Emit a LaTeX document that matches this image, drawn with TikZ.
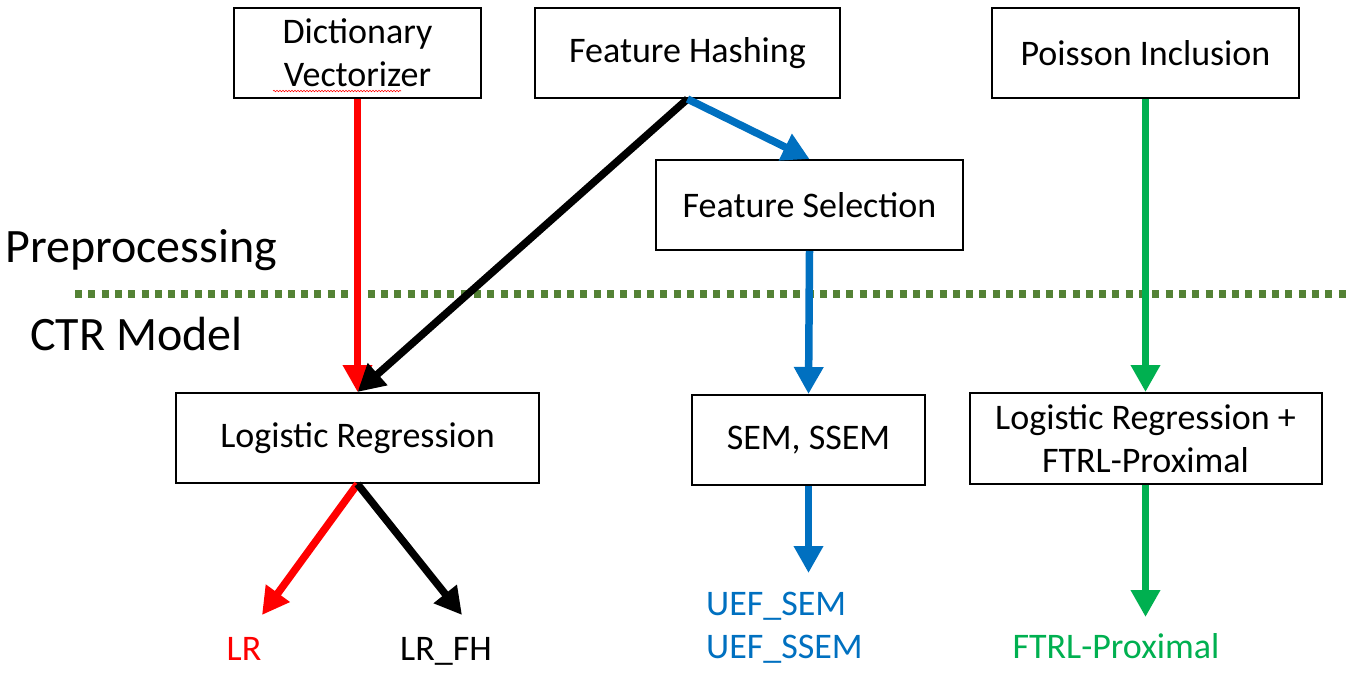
\documentclass[tikz,border=0pt]{standalone}
\usepackage{fontspec}
\setmainfont{Carlito}
\usetikzlibrary{arrows.meta,positioning,decorations.pathmorphing}
\definecolor{flowred}{HTML}{FF0000}
\definecolor{flowblue}{HTML}{0070C0}
\definecolor{flowgreen}{HTML}{00B050}
\definecolor{sepgreen}{HTML}{548235}
\tikzset{
  >={Triangle[length=27pt,width=28pt]},
  % kästchen
  box/.style={draw=black,line width=2pt,fill=white,align=center,inner sep=0pt,
              font=\fontsize{36}{43}\selectfont},
  flow/.style={->,line width=7.5pt},
  outlbl/.style={font=\fontsize{36}{43}\selectfont,inner sep=0pt,align=left},
  stage/.style={font=\fontsize{48}{54}\selectfont,inner sep=0pt,anchor=base west},
  sepline/.style={draw=sepgreen,line width=8pt,dash pattern=on 7pt off 6.3pt},
}
\begin{document}
\begin{tikzpicture}[x=1pt,y=-1pt]
\useasboundingbox (0,0) rectangle (1348,675);
  \node[box,minimum width=247,minimum height=90] (dv) at (357.5,53) {Dictionary\\Vectorizer};
  \node[box,minimum width=305,minimum height=90] (fh) at (687.5,53) {Feature Hashing};
  \node[box,minimum width=307,minimum height=90] (pi) at (1145.5,53) {Poisson Inclusion};
  \node[box,minimum width=307,minimum height=90] (fs) at (809.5,205) {Feature Selection};
  \node[box,minimum width=363,minimum height=90] (lr) at (357.5,438) {Logistic Regression};
  \node[box,minimum width=233,minimum height=90] (sem) at (808.5,440) {SEM, SSEM};
  \node[box,minimum width=352,minimum height=91] (lrf) at (1145.5,438.5) {Logistic Regression +\\FTRL-Proximal};
  \draw[flowred,line width=0.6pt,decorate,decoration={snake,amplitude=0.7pt,segment length=3pt}]
    (273,91) -- (401,91);
  % stufen
  \node[stage] (pre) at (5,262) {Preprocessing};
  \node[stage] (ctr) at (30,350) {CTR Model};
  \draw[sepline] (75,294) -- (1348,294);
  % ausgaben
  \node[outlbl,text=flowred,anchor=base] (olr) at (244,660) {LR};
  \node[outlbl,anchor=base] (olrfh) at (446,660) {LR\_FH};
  \node[outlbl,text=flowblue,anchor=base west] (ouef) at (706,658) {UEF\_SEM\\UEF\_SSEM};
  \node[outlbl,text=flowgreen,anchor=base] (oftrl) at (1116,658) {FTRL-Proximal};
  \coordinate (tlr) at (262,615);
  \coordinate (tlrfh) at (462,615);
  \coordinate (tuef) at (808.5,573);
  \coordinate (tftrl) at (1145.5,617);
  % pfeile
  \draw[flow,flowred] (dv.south) -- (lr.north);
  \draw[flow,black] (fh.south) -- (lr.north);
  \draw[flow,flowblue] (fh.south) -- (fs.north);
  \draw[flow,flowblue] (fs.south) -- (sem.north);
  \draw[flow,flowgreen] (pi.south) -- (lrf.north);
  \draw[flow,flowred] (lr.south) -- (tlr);
  \draw[flow,black] (lr.south) -- (tlrfh);
  \draw[flow,flowblue] (sem.south) -- (tuef);
  \draw[flow,flowgreen] (lrf.south) -- (tftrl);
\end{tikzpicture}
\end{document}
